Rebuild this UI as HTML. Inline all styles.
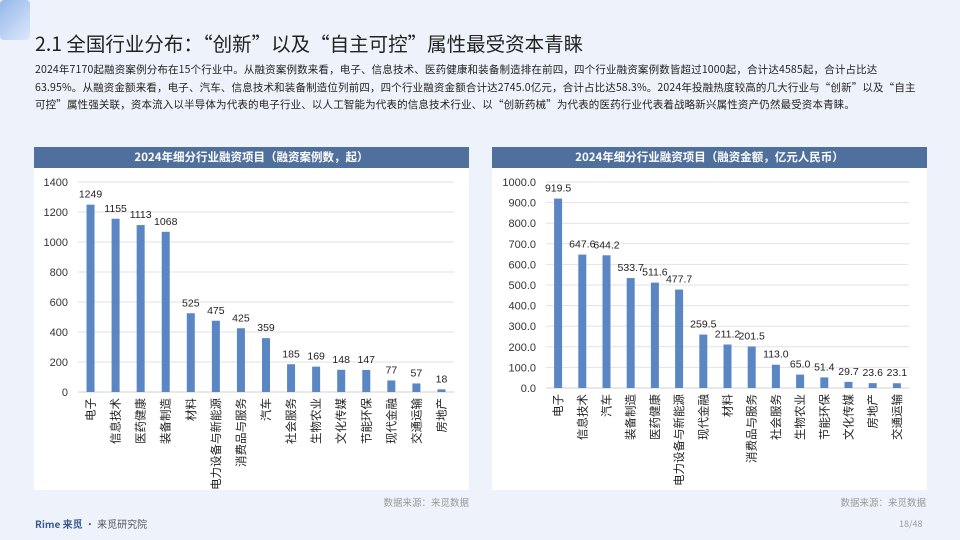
<!DOCTYPE html>
<html><head><meta charset="utf-8">
<style>
*{margin:0;padding:0;box-sizing:border-box}
body{width:960px;height:540px;overflow:hidden;background:#eef3fb;font-family:"Noto Sans CJK SC","Liberation Sans",sans-serif;position:relative;color:#222}
.title{position:absolute;left:35px;top:28px;font-size:19.5px;color:#222;white-space:nowrap}
.para{position:absolute;left:35px;top:61px;width:884px;font-size:10.5px;line-height:17.5px;color:#222;letter-spacing:0.15px}
.panel{position:absolute;top:147px;width:435px;height:343px;background:#fff}
.hdr{height:21px;background:#4f6f9c;color:#fff;font-size:11.5px;font-weight:bold;text-align:center;line-height:21px}
.src{position:absolute;top:495px;font-size:9.5px;color:#999;text-align:right;width:120px}
svg text{font-family:"Liberation Sans","Noto Sans CJK SC",sans-serif}
</style></head><body>
<div style="position:absolute;left:0;top:0;width:30px;height:40px;background:linear-gradient(135deg,#5b8fe0,#cfe0fa);opacity:.6;border-radius:4px"></div>
<div class="title">2.1 全国行业分布：“创新”以及“自主可控”属性最受资本青睐</div>
<div class="para">2024年7170起融资案例分布在15个行业中。从融资案例数来看，电子、信息技术、医药健康和装备制造排在前四，四个行业融资案例数皆超过1000起，合计达4585起，合计占比达63.95%。从融资金额来看，电子、汽车、信息技术和装备制造位列前四，四个行业融资金额合计达2745.0亿元，合计占比达58.3%。2024年投融热度较高的几大行业与“创新”以及“自主可控”属性强关联，资本流入以半导体为代表的电子行业、以人工智能为代表的信息技术行业、以“创新药械”为代表的医药行业代表着战略新兴属性资产仍然最受资本青睐。</div>

<div class="panel" style="left:34px">
<div class="hdr">2024年细分行业融资项目（融资案例数，起）</div>
<svg id="c1" width="435" height="322"></svg>
</div>
<div class="panel" style="left:492px">
<div class="hdr">2024年细分行业融资项目（融资金额，亿元人民币）</div>
<svg id="c2" width="435" height="322"></svg>
</div>
<div class="src" style="left:349px">数据来源：来觅数据</div>
<div class="src" style="left:806px">数据来源：来觅数据</div>
<div style="position:absolute;left:35px;top:516px;font-size:10px;color:#555"><b style="color:#3a5a8c">Rime 来觅</b> · 来觅研究院</div>
<div style="position:absolute;left:899px;top:517px;font-size:9px;color:#999">18/48</div>
<script>
const cats1=["电子","信息技术","医药健康","装备制造","材料","电力设备与新能源","消费品与服务","汽车","社会服务","生物农业","文化传媒","节能环保","现代金融","交通运输","房地产"];
const vals1=[1249,1155,1113,1068,525,475,425,359,185,169,148,147,77,57,18];
const ticks1=[0,200,400,600,800,1000,1200,1400];
const labels1=["1249","1155","1113","1068","525","475","425","359","185","169","148","147","77","57","18"];
const cats2=["电子","信息技术","汽车","装备制造","医药健康","电力设备与新能源","现代金融","材料","消费品与服务","社会服务","生物农业","节能环保","文化传媒","房地产","交通运输"];
const vals2=[919.5,647.6,644.2,533.7,511.6,477.7,259.5,211.2,201.5,113.0,65.0,51.4,29.7,23.6,23.1];
const ticks2=[0,100,200,300,400,500,600,700,800,900,1000];
const labels2=vals2.map(v=>v.toFixed(1));
const NS="http://www.w3.org/2000/svg";
function el(p,t,a){const e=document.createElementNS(NS,t);for(const k in a)e.setAttribute(k,a[k]);p.appendChild(e);return e;}
function draw(id,cats,vals,ticks,labels,o){
 const s=document.getElementById(id);
 const max=ticks[ticks.length-1];
 const y=v=>o.y0-(v/max)*(o.y0-o.y1);
 const step=(o.x1-o.x0)/cats.length;
 const x=i=>o.x0+step*(i+0.5);
 ticks.forEach(t=>{
  const g=el(s,'line',{x1:o.x0,x2:o.x1,y1:y(t),y2:y(t),stroke:t===0?'#d0d0d0':'#e2e2e2','stroke-width':1});
  
  
  const tx=el(s,'text',{x:o.lx,y:y(t)+4,'text-anchor':'end','font-size':11,fill:'#333'});
  tx.textContent=o.fmt(t);
  
  
 });
 cats.forEach((c,i)=>{
  const r=el(s,'rect',{x:x(i)-4,y:y(vals[i]),width:8,height:o.y0-y(vals[i]),fill:'#5a86c3'});
  
  
  const t=el(s,'text',{x:x(i),y:y(vals[i])-7,'text-anchor':'middle','font-size':10.5,fill:'#222'});
  t.textContent=labels[i];
  
  
  const ct=el(s,'text',{x:0,y:0,'font-size':11.5,fill:'#222','text-anchor':'end',transform:'translate('+(x(i)+4)+','+(o.y0+6)+') rotate(-90)'});
  ct.textContent=c;
  
  
 });
}
draw('c1',cats1,vals1,ticks1,labels1,{x0:44,x1:420,y0:224,y1:14,lx:34,fmt:t=>String(t)});
draw('c2',cats2,vals2,ticks2,labels2,{x0:54,x1:417,y0:220,y1:14,lx:44,fmt:t=>t.toFixed(1)});
</script>
</body></html>
